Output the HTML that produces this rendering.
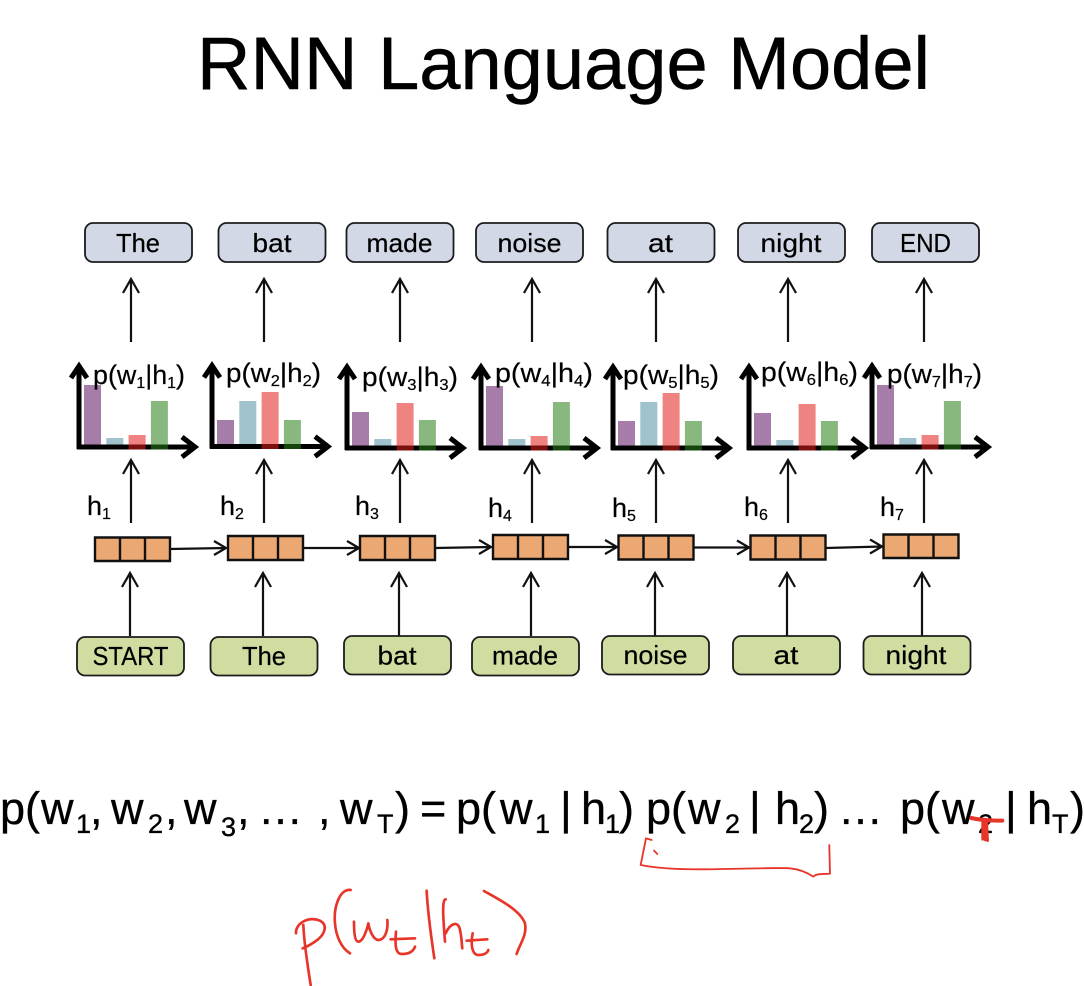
<!DOCTYPE html>
<html lang="en">
<head>
<meta charset="utf-8">
<title>RNN Language Model</title>
<style>
html,body{margin:0;padding:0;background:#fff;width:1084px;height:986px;overflow:hidden}
svg{display:block}
text{font-family:"Liberation Sans",sans-serif;fill:#000}
.word{font-size:26px;text-anchor:middle;stroke:#000;stroke-width:.2px}
.title{font-size:74px;stroke:#000;stroke-width:.5px}
.plabel{font-size:27px;stroke:#000;stroke-width:.2px}
.sub{font-size:16px}
.hlabel{font-size:27px;stroke:#000;stroke-width:.2px}
.formula{font-size:45px;stroke:#000;stroke-width:.35px}
.fsub{font-size:27px}
.outbox{fill:#d3d8e6;stroke:#1c1c1c;stroke-width:1.8}
.inbox{fill:#cfdea0;stroke:#1c1c1c;stroke-width:1.8}
.arr{fill:none;stroke:#111;stroke-width:2.2}
.axis{fill:none;stroke:#000;stroke-width:5}
.cell{fill:#eba872;stroke:#111;stroke-width:2.4}
.ink{fill:none;stroke:#e8352a;stroke-width:8;stroke-linecap:round;stroke-linejoin:round}
</style>
</head>
<body>
<svg xmlns="http://www.w3.org/2000/svg" width="1084" height="986" viewBox="0 0 1084 986">
<text class="title" x="197" y="89" textLength="733" lengthAdjust="spacingAndGlyphs">RNN Language Model</text>

<g>
<rect class="outbox" x="85" y="223" width="107" height="39" rx="8"/>
<text class="word" x="138" y="252" textLength="44" lengthAdjust="spacingAndGlyphs">The</text>
<rect class="outbox" x="218.500" y="223" width="107" height="39" rx="8"/>
<text class="word" x="272" y="252" textLength="39" lengthAdjust="spacingAndGlyphs">bat</text>
<rect class="outbox" x="346.500" y="223" width="107" height="39" rx="8"/>
<text class="word" x="399.500" y="252" textLength="66" lengthAdjust="spacingAndGlyphs">made</text>
<rect class="outbox" x="476" y="223" width="107" height="39" rx="8"/>
<text class="word" x="529.500" y="252" textLength="64" lengthAdjust="spacingAndGlyphs">noise</text>
<rect class="outbox" x="607.500" y="223" width="107" height="39" rx="8"/>
<text class="word" x="660.500" y="252" textLength="25" lengthAdjust="spacingAndGlyphs">at</text>
<rect class="outbox" x="738" y="223" width="107" height="39" rx="8"/>
<text class="word" x="791" y="252" textLength="61" lengthAdjust="spacingAndGlyphs">night</text>
<rect class="outbox" x="872" y="223" width="107" height="39" rx="8"/>
<text class="word" x="925.500" y="252" textLength="51" lengthAdjust="spacingAndGlyphs">END</text>
</g>

<g>
<path class="arr" d="M131 342V279M123 293L131 279L139 293"/>
<path class="arr" d="M264 342V279M256 293L264 279L272 293"/>
<path class="arr" d="M400 342V279M392 293L400 279L408 293"/>
<path class="arr" d="M532 342V279M524 293L532 279L540 293"/>
<path class="arr" d="M656 342V279M648 293L656 279L664 293"/>
<path class="arr" d="M788 342V279M780 293L788 279L796 293"/>
<path class="arr" d="M924 342V279M916 293L924 279L932 293"/>
</g>

<g>
<path class="arr" d="M131 523V460M123 474L131 460L139 474"/>
<path class="arr" d="M264 523V460M256 474L264 460L272 474"/>
<path class="arr" d="M400 523V460M392 474L400 460L408 474"/>
<path class="arr" d="M532 523V460M524 474L532 460L540 474"/>
<path class="arr" d="M656 523V460M648 474L656 460L664 474"/>
<path class="arr" d="M788 523V460M780 474L788 460L796 474"/>
<path class="arr" d="M924 523V460M916 474L924 460L932 474"/>
</g>

<g id="chart-0" transform="translate(79,447)">
<path class="axis" d="M0 2V-81M-8 -69L0 -81L8 -69"/>
<path class="axis" d="M-2 0H116M103 -10L116 0L103 10"/>
</g>
<g id="chart-1" transform="translate(212,446.500)">
<path class="axis" d="M0 2V-81M-8 -69L0 -81L8 -69"/>
<path class="axis" d="M-2 0H116M103 -10L116 0L103 10"/>
</g>
<g id="chart-2" transform="translate(347,448)">
<path class="axis" d="M0 2V-81M-8 -69L0 -81L8 -69"/>
<path class="axis" d="M-2 0H116M103 -10L116 0L103 10"/>
</g>
<g id="chart-3" transform="translate(481,448)">
<path class="axis" d="M0 2V-81M-8 -69L0 -81L8 -69"/>
<path class="axis" d="M-2 0H116M103 -10L116 0L103 10"/>
</g>
<g id="chart-4" transform="translate(613,448)">
<path class="axis" d="M0 2V-81M-8 -69L0 -81L8 -69"/>
<path class="axis" d="M-2 0H116M103 -10L116 0L103 10"/>
</g>
<g id="chart-5" transform="translate(749,448)">
<path class="axis" d="M0 2V-81M-8 -69L0 -81L8 -69"/>
<path class="axis" d="M-2 0H116M103 -10L116 0L103 10"/>
</g>
<g id="chart-6" transform="translate(872,447)">
<path class="axis" d="M0 2V-81M-8 -69L0 -81L8 -69"/>
<path class="axis" d="M-2 0H116M103 -10L116 0L103 10"/>
</g>

<g>
<text class="plabel" x="93" y="384" textLength="92" lengthAdjust="spacingAndGlyphs">p(w<tspan class="sub" dy="4">1</tspan><tspan dy="-4">|h</tspan><tspan class="sub" dy="4">1</tspan><tspan dy="-4">)</tspan></text>
<text class="plabel" x="226" y="382" textLength="95" lengthAdjust="spacingAndGlyphs">p(w<tspan class="sub" dy="4">2</tspan><tspan dy="-4">|h</tspan><tspan class="sub" dy="4">2</tspan><tspan dy="-4">)</tspan></text>
<text class="plabel" x="362" y="386" textLength="96" lengthAdjust="spacingAndGlyphs">p(w<tspan class="sub" dy="4">3</tspan><tspan dy="-4">|h</tspan><tspan class="sub" dy="4">3</tspan><tspan dy="-4">)</tspan></text>
<text class="plabel" x="495" y="382" textLength="98" lengthAdjust="spacingAndGlyphs">p(w<tspan class="sub" dy="4">4</tspan><tspan dy="-4">|h</tspan><tspan class="sub" dy="4">4</tspan><tspan dy="-4">)</tspan></text>
<text class="plabel" x="623" y="384" textLength="96" lengthAdjust="spacingAndGlyphs">p(w<tspan class="sub" dy="4">5</tspan><tspan dy="-4">|h</tspan><tspan class="sub" dy="4">5</tspan><tspan dy="-4">)</tspan></text>
<text class="plabel" x="761" y="381" textLength="97" lengthAdjust="spacingAndGlyphs">p(w<tspan class="sub" dy="4">6</tspan><tspan dy="-4">|h</tspan><tspan class="sub" dy="4">6</tspan><tspan dy="-4">)</tspan></text>
<text class="plabel" x="887" y="383" textLength="95" lengthAdjust="spacingAndGlyphs">p(w<tspan class="sub" dy="4">7</tspan><tspan dy="-4">|h</tspan><tspan class="sub" dy="4">7</tspan><tspan dy="-4">)</tspan></text>
</g>

<g>
<text class="hlabel" x="87" y="515">h<tspan class="sub" dy="4">1</tspan></text>
<text class="hlabel" x="220" y="515">h<tspan class="sub" dy="4">2</tspan></text>
<text class="hlabel" x="355" y="515">h<tspan class="sub" dy="4">3</tspan></text>
<text class="hlabel" x="488" y="517">h<tspan class="sub" dy="4">4</tspan></text>
<text class="hlabel" x="612" y="517">h<tspan class="sub" dy="4">5</tspan></text>
<text class="hlabel" x="744" y="516">h<tspan class="sub" dy="4">6</tspan></text>
<text class="hlabel" x="880" y="516">h<tspan class="sub" dy="4">7</tspan></text>
</g>

<g>
<path class="arr" d="M170 549L226 548M214 541L226 548L214 555"/>
<path class="arr" d="M303 548H359M347 541L359 548L347 555"/>
<path class="arr" d="M435 548L491 547M479 540L491 547L479 554"/>
<path class="arr" d="M568 547H617M605 540L617 547L605 554"/>
<path class="arr" d="M693 547.500H749M737 540.500L749 547.500L737 554.500"/>
<path class="arr" d="M826 548L882 546.500M870 539.500L882 546.500L870 553.500"/>
</g>

<g>
<path class="cell" d="M95 537.500H170V561H95ZM120 537.500V561M145 537.500V561"/>
<path class="cell" d="M228 536H303V560H228ZM253 536V560M278 536V560"/>
<path class="cell" d="M360 536H435V560H360ZM385 536V560M410 536V560"/>
<path class="cell" d="M493 535H568V559H493ZM518 535V559M543 535V559"/>
<path class="cell" d="M618.500 535.500H693.500V559.500H618.500ZM643.500 535.500V559.500M668.500 535.500V559.500"/>
<path class="cell" d="M750.500 535.500H825.500V559.500H750.500ZM775.500 535.500V559.500M800.500 535.500V559.500"/>
<path class="cell" d="M883.500 534.500H958.500V558H883.500ZM908.500 534.500V558M933.500 534.500V558"/>
</g>

<g>
<path class="arr" d="M130 636V573M122 587L130 573L138 587"/>
<path class="arr" d="M263 636V573M255 587L263 573L271 587"/>
<path class="arr" d="M399 636V573M391 587L399 573L407 587"/>
<path class="arr" d="M531 636V573M523 587L531 573L539 587"/>
<path class="arr" d="M655 636V573M647 587L655 573L663 587"/>
<path class="arr" d="M787 636V573M779 587L787 573L795 587"/>
<path class="arr" d="M922 636V573M914 587L922 573L930 587"/>
</g>

<g>
<rect class="inbox" x="77" y="637" width="107" height="38.500" rx="8"/>
<text class="word" x="130.500" y="665" textLength="76" lengthAdjust="spacingAndGlyphs">START</text>
<rect class="inbox" x="210.500" y="637" width="107" height="38.500" rx="8"/>
<text class="word" x="264" y="665" textLength="44" lengthAdjust="spacingAndGlyphs">The</text>
<rect class="inbox" x="344" y="636" width="107" height="38.500" rx="8"/>
<text class="word" x="397" y="664.500" textLength="39" lengthAdjust="spacingAndGlyphs">bat</text>
<rect class="inbox" x="472" y="637" width="107" height="38.500" rx="8"/>
<text class="word" x="525" y="664.500" textLength="66" lengthAdjust="spacingAndGlyphs">made</text>
<rect class="inbox" x="602" y="636" width="107" height="38.500" rx="8"/>
<text class="word" x="655.500" y="664" textLength="64" lengthAdjust="spacingAndGlyphs">noise</text>
<rect class="inbox" x="733" y="636" width="107" height="38.500" rx="8"/>
<text class="word" x="786" y="664" textLength="25" lengthAdjust="spacingAndGlyphs">at</text>
<rect class="inbox" x="863.500" y="636" width="107" height="38.500" rx="8"/>
<text class="word" x="916" y="664" textLength="61" lengthAdjust="spacingAndGlyphs">night</text>
</g>

<text class="formula" y="824"><tspan x="0">p(</tspan><tspan x="41">w</tspan><tspan class="fsub" x="76" y="833">1</tspan><tspan x="90" y="824">,</tspan><tspan x="111">w</tspan><tspan class="fsub" x="148" y="833">2</tspan><tspan x="165" y="824">,</tspan><tspan x="184">w</tspan><tspan class="fsub" x="221" y="836">3</tspan><tspan x="237" y="824">,</tspan><tspan x="258">…</tspan><tspan x="318">,</tspan><tspan x="340">w</tspan><tspan class="fsub" x="377" y="833">T</tspan><tspan x="395" y="824">)</tspan><tspan x="420">=</tspan><tspan x="456">p(</tspan><tspan x="500">w</tspan><tspan class="fsub" x="535" y="833">1</tspan><tspan x="560" y="824">|</tspan><tspan x="581">h</tspan><tspan class="fsub" x="605" y="833">1</tspan><tspan x="619" y="824">)</tspan><tspan x="646">p(</tspan><tspan x="688">w</tspan><tspan class="fsub" x="725" y="833">2</tspan><tspan x="749" y="824">|</tspan><tspan x="775">h</tspan><tspan class="fsub" x="799" y="833">2</tspan><tspan x="814" y="824">)</tspan><tspan x="838">…</tspan><tspan x="900">p(</tspan><tspan x="942">w</tspan><tspan class="fsub" x="978" y="833">2</tspan><tspan x="1005" y="824">|</tspan><tspan x="1027">h</tspan><tspan class="fsub" x="1052" y="833">T</tspan><tspan x="1070" y="824">)</tspan></text>

<g transform="translate(600,780) scale(0.3333)">
<path class="ink" style="stroke-width:5.500" d="M155 180L138 175L122 255C170 265 230 268 300 268C400 268 520 262 570 265C600 268 625 280 640 290C650 280 665 283 690 281L688 195"/>
<path class="ink" style="stroke-width:5.500" d="M162 212L172 222"/>
<path class="ink" style="stroke-width:12" d="M1114 114C1140 120 1180 122 1207 122"/>
<path class="ink" d="M1148 122V178M1155 122L1156 180M1160 122L1163 182"/>
</g>

<g transform="translate(280,880) scale(0.3333)">
<path class="ink" d="M48 160C46 130 85 108 120 122C145 135 135 165 105 185C90 195 75 203 68 205M70 135C72 190 85 270 92 315"/>
<path class="ink" d="M212 30C180 25 160 80 165 130C168 170 185 205 210 220"/>
<path class="ink" d="M222 125C222 160 225 185 235 185C250 185 262 145 265 130C268 150 280 180 295 180C315 180 325 150 322 120"/>
<path class="ink" d="M332 178L405 175M348 155C345 190 345 222 365 222C385 222 400 215 405 200"/>
<path class="ink" d="M440 32C443 100 455 180 463 235"/>
<path class="ink" d="M497 58C485 58 490 120 495 185M497 160C510 130 535 120 540 150C545 170 545 190 547 205"/>
<path class="ink" d="M560 182L622 178M578 160C572 190 575 225 595 225C610 225 622 220 625 210"/>
<path class="ink" d="M612 33C660 60 720 90 735 130C742 165 720 190 710 222"/>
</g>

<script>
var categories = ["word-a", "word-b", "word-c", "word-d"];
var seriesH1 = [0.62, 0.09, 0.12, 0.46];
var seriesH2 = [0.265, 0.455, 0.545, 0.265];
var seriesH3 = [0.36, 0.09, 0.45, 0.28];
var seriesH4 = [0.62, 0.09, 0.12, 0.46];
var seriesH5 = [0.27, 0.46, 0.55, 0.27];
var seriesH6 = [0.35, 0.08, 0.44, 0.27];
var seriesH7 = [0.62, 0.09, 0.12, 0.46];
var allSeries = [seriesH1, seriesH2, seriesH3, seriesH4, seriesH5, seriesH6, seriesH7];

var SVG_NS = "http://www.w3.org/2000/svg";
var barColors = ["#5c1060", "#508fa3", "#e01e19", "#287d16"];
var barWidth = 17;
function xScale(i) { return 5 + i * 22.3; }
function yScale(v) { return -v * 100; }
function barBottom(i) { return i < 2 ? -2.5 : 2.5; }

allSeries.forEach(function (values, c) {
  var group = document.getElementById("chart-" + c);
  values.forEach(function (v, i) {
    var top = yScale(v);
    var bar = document.createElementNS(SVG_NS, "rect");
    bar.setAttribute("x", xScale(i));
    bar.setAttribute("y", top);
    bar.setAttribute("width", barWidth);
    bar.setAttribute("height", barBottom(i) - top);
    bar.setAttribute("fill", barColors[i]);
    bar.setAttribute("fill-opacity", "0.55");
    
    
    group.appendChild(bar);
  });
});
</script>
</svg>
</body>
</html>
